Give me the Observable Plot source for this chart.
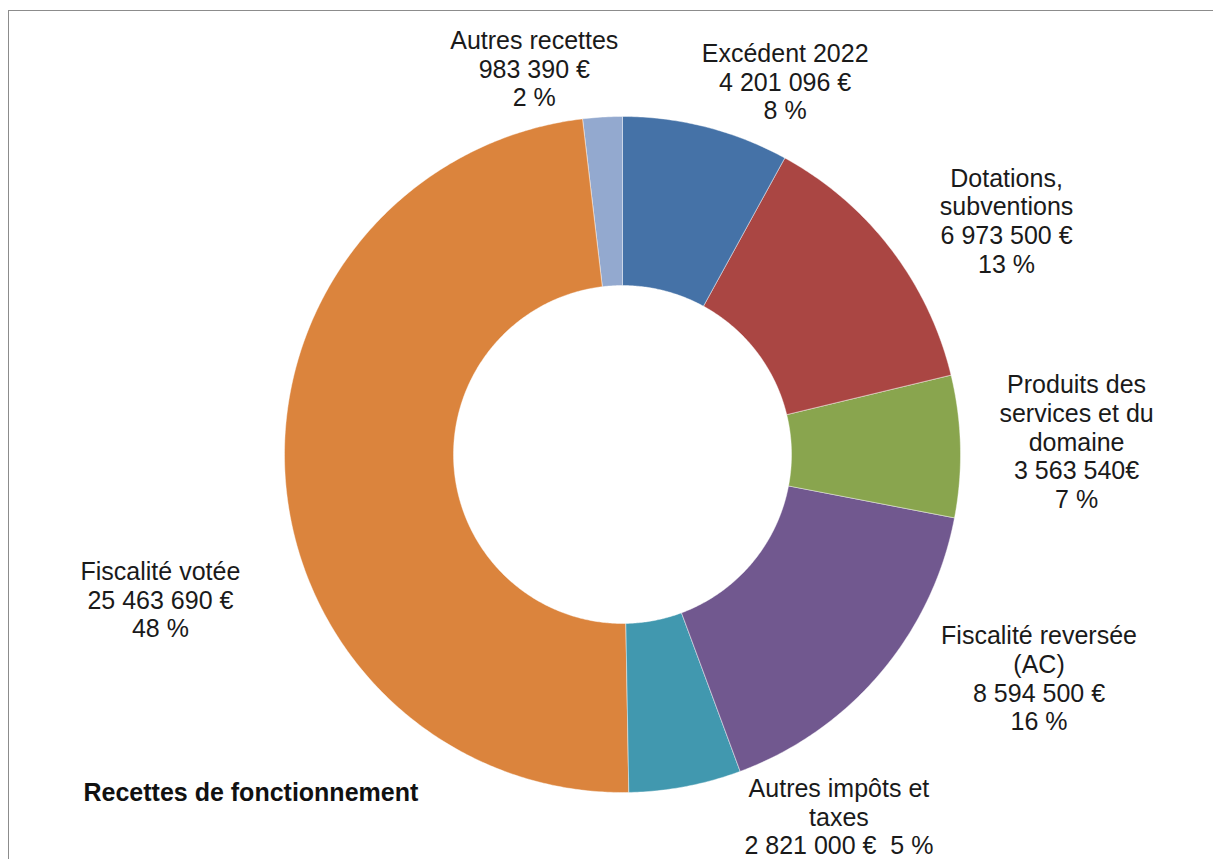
<!DOCTYPE html>
<html><head><meta charset="utf-8">
<script src="https://cdn.jsdelivr.net/npm/d3@7"></script>
<script src="https://cdn.jsdelivr.net/npm/@observablehq/plot@0.6"></script>
<style>
body{margin:0;background:#fff;}
#wrap{position:relative;width:1213px;height:859px;overflow:hidden;background:#fff;}
#chart{position:absolute;left:0;top:0;z-index:1;}
#border{position:absolute;left:8px;top:10px;width:1210px;height:900px;border:1.5px solid #8c8c8c;box-sizing:border-box;z-index:2;pointer-events:none;}
</style></head><body>
<div id="wrap"><div id="chart"></div><div id="border"></div></div>
<script>
// ---- data ----
const categories = ["Excédent 2022", "Dotations, subventions", "Produits des services et du domaine", "Fiscalité reversée (AC)", "Autres impôts et taxes", "Fiscalité votée", "Autres recettes"];
const values = [4201096, 6973500, 3563540, 8594500, 2821000, 25463690, 983390];
const labelTexts = [
  "Excédent 2022\n4 201 096 €\n8 %",
  "Dotations,\nsubventions\n6 973 500 €\n13 %",
  "Produits des\nservices et du\ndomaine\n3 563 540€\n7 %",
  "Fiscalité reversée\n(AC)\n8 594 500 €\n16 %",
  "Autres impôts et\ntaxes\n2 821 000 €\u00a0 5 %",
  "Fiscalité votée\n25 463 690 €\n48 %",
  "Autres recettes\n983 390 €\n2 %"
];
const title = "Recettes de fonctionnement";

// ---- style / layout ----
const colors = ["#4572A7", "#AA4643", "#89A54E", "#71588F", "#4198AF", "#DB843D", "#93A9CF"];
const innerRatio = 0.5;
const labelAngleDeg = [21.5, 53.1, 79.8, 112.1, 146.1, 257.2, 348.3];
const labelRadius = [1.313, 1.421, 1.365, 1.330, 1.148, 1.402, 1.287];

// ---- geometry from values ----
const rows = categories.map((c, i) => ({category: c, value: values[i]}));
const arcs = d3.pie().sort(null).value(d => d.value)(rows);
const pt = (a, r) => [r * Math.sin(a), -r * Math.cos(a)];
const features = arcs.map(p => {
  const span = p.endAngle - p.startAngle;
  const n = Math.max(2, Math.ceil(span / (Math.PI / 360)));
  const ring = [];
  for (let k = 0; k <= n; k++) ring.push(pt(p.startAngle + span * k / n, 1));
  for (let k = n; k >= 0; k--) ring.push(pt(p.startAngle + span * k / n, innerRatio));
  ring.push(ring[0]);
  return {type: "Feature", properties: {category: p.data.category}, geometry: {type: "Polygon", coordinates: [ring]}};
});
const labels = categories.map((c, i) => {
  const a = labelAngleDeg[i] * Math.PI / 180;
  const [x, y] = pt(a, labelRadius[i]);
  return {category: c, text: labelTexts[i], x, y};
});

const chart = Plot.plot({
  width: 1213,
  height: 859,
  marginLeft: 284,
  marginRight: 253,
  marginTop: 116,
  marginBottom: 67,
  projection: {type: "identity", domain: {type: "MultiPoint", coordinates: [[-1, -1], [1, 1]]}, inset: 0, clip: false},
  color: {domain: categories, range: colors},
  style: {fontFamily: "'Liberation Sans', Arial, sans-serif", background: "transparent", color: "#1a1a1a"},
  marks: [
    Plot.geo(features, {fill: d => d.properties.category, stroke: "#ffffff", strokeWidth: 0.6, strokeOpacity: 0.7, clip: false}),
    Plot.text(labels, {x: "x", y: "y", text: "text", fontSize: 25, lineHeight: 1.15, lineAnchor: "top", textAnchor: "middle", fill: "#1a1a1a", clip: false}),
    Plot.text([title], {frameAnchor: "bottom-left", text: d => d, dx: -201, dy: 8, lineAnchor: "bottom", textAnchor: "start", fontWeight: "bold", fontSize: 25, fill: "#111"})
  ]
});
document.getElementById("chart").appendChild(chart);
</script>
</body></html>
